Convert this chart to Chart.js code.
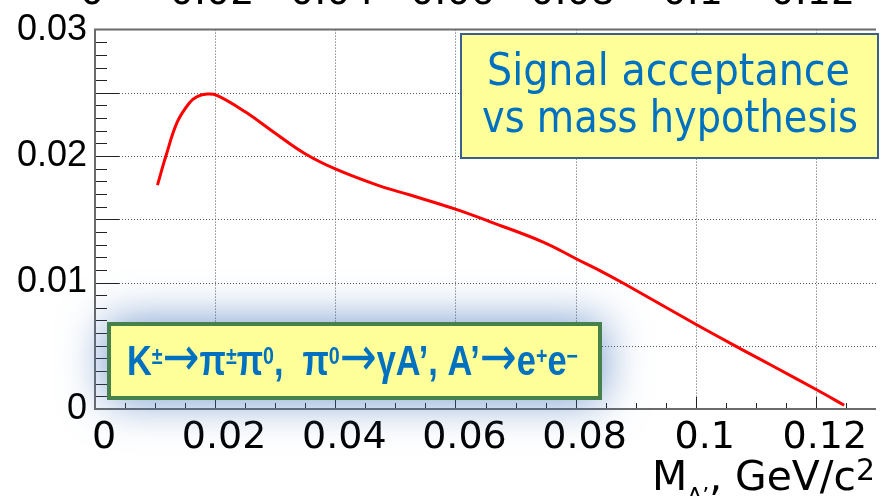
<!DOCTYPE html>
<html lang="en">
<head>
<meta charset="UTF-8" />
<title>Signal acceptance vs mass hypothesis</title>
<script src="https://cdn.jsdelivr.net/npm/chart.js"></script>
<style>
  html, body { margin: 0; padding: 0; background: #fff; }
  #wrap { width: 882px; height: 496px; position: relative; }
</style>
</head>
<body>
<div id="wrap"><canvas id="accChart"></canvas></div>
<script>
  // mass hypothesis M_A' (GeV/c^2) and signal acceptance
  const massValues = [0.0104, 0.0118, 0.0137, 0.0157, 0.0170, 0.0187, 0.0203, 0.0250, 0.0300,
                      0.0349, 0.0399, 0.0470, 0.0526, 0.0600, 0.0658, 0.0746, 0.0800, 0.0834,
                      0.0881, 0.1000, 0.1077, 0.1132, 0.1202, 0.1247];
  const acceptance = [0.0177, 0.0200, 0.0227, 0.0242, 0.0247, 0.0249, 0.0248, 0.0235, 0.0218,
                      0.0202, 0.0190, 0.0177, 0.0169, 0.0158, 0.0148, 0.0132, 0.0119, 0.0111,
                      0.0099, 0.0067, 0.0047, 0.0033, 0.0015, 0.0003];

  const xTickValues = [0, 0.02, 0.04, 0.06, 0.08, 0.1, 0.12];
  const xTickLabels = ['0', '0.02', '0.04', '0.06', '0.08', '0.1', '0.12'];
  const yTickValues = [0, 0.01, 0.02, 0.03];
  const yTickLabels = ['0', '0.01', '0.02', '0.03'];

  const titleLines = ['Signal acceptance', 'vs mass hypothesis'];

  function labelFor(values, labels, v) {
    const i = values.findIndex(t => Math.abs(t - v) < 1e-9);
    return i >= 0 ? labels[i] : '';
  }

  // draws a run of text pieces (sub/superscripts), squeezed to a given width
  function drawRich(ctx, parts, x0, base, width, family, weight) {
    const fontOf = p => `${p.weight || weight} ${p.size}px ${p.family || family}`;
    let total = 0;
    parts.forEach(p => {
      ctx.font = fontOf(p);
      p.w = ctx.measureText(p.t).width;
      total += p.w;
    });
    ctx.save();
    ctx.translate(x0, base);
    ctx.scale(width / total, 1);
    ctx.textAlign = 'left';
    ctx.textBaseline = 'alphabetic';
    let cx = 0;
    parts.forEach(p => {
      ctx.font = fontOf(p);
      ctx.fillText(p.t, cx, p.dy || 0);
      cx += p.w;
    });
    ctx.restore();
  }

  const frame = {
    id: 'frame',
    beforeDatasetsDraw(chart) {
      const { ctx, chartArea: a, scales: { x, y } } = chart;
      ctx.save();
      ctx.strokeStyle = '#555';
      ctx.lineWidth = 1;
      ctx.setLineDash([1, 2]);
      ctx.beginPath();
      for (let i = 1; i <= 6; i++) {
        const px = Math.round(x.getPixelForValue(i * 0.02)) + 0.5;
        ctx.moveTo(px, a.top); ctx.lineTo(px, a.bottom);
      }
      for (let i = 1; i <= 5; i++) {
        const py = Math.round(y.getPixelForValue(i * 0.005)) + 0.5;
        ctx.moveTo(a.left, py); ctx.lineTo(a.right, py);
      }
      ctx.stroke();
      ctx.restore();
    },
    afterDatasetsDraw(chart) {
      const { ctx, chartArea: a, scales: { x, y } } = chart;
      ctx.save();
      // inward tick marks
      ctx.strokeStyle = '#222';
      ctx.lineWidth = 1;
      ctx.beginPath();
      for (let i = 1; i < 30; i++) {
        const py = Math.round(y.getPixelForValue(i / 1000)) + 0.5;
        const len = i % 5 === 0 ? 24 : 12;
        ctx.moveTo(a.left, py); ctx.lineTo(a.left + len, py);
      }
      for (let i = 1; i <= 25; i++) {
        const px = Math.round(x.getPixelForValue(i * 0.005)) + 0.5;
        const len = i % 4 === 0 ? 12 : 6;
        ctx.moveTo(px, a.bottom); ctx.lineTo(px, a.bottom - len);
      }
      ctx.stroke();
      // frame
      ctx.strokeStyle = '#6b6b6b';
      ctx.lineWidth = 2;
      ctx.beginPath();
      ctx.moveTo(a.right, a.top); ctx.lineTo(a.left, a.top);
      ctx.lineTo(a.left, a.bottom); ctx.lineTo(a.right, a.bottom);
      ctx.stroke();
      ctx.restore();
    },
    afterDraw(chart) {
      const { ctx, scales: { x } } = chart;
      ctx.save();
      // tick labels of the panel above, cut by the page edge
      ctx.fillStyle = '#000';
      ctx.font = '38px "DejaVu Sans"';
      ctx.textAlign = 'center';
      ctx.textBaseline = 'alphabetic';
      xTickValues.forEach((v, i) => ctx.fillText(xTickLabels[i], x.getPixelForValue(v) - 3, 4));

      // top-right note
      ctx.fillStyle = '#ffff99';
      ctx.fillRect(461, 34, 417, 124);
      ctx.strokeStyle = '#3b5e8c';
      ctx.lineWidth = 2;
      ctx.strokeRect(461, 34, 417, 124);
      ctx.fillStyle = '#0070c0';
      drawRich(ctx, [{ t: titleLines[0], size: 45 }], 668.5 - 181.5, 85, 363, '"DejaVu Sans"', 'normal');
      drawRich(ctx, [{ t: titleLines[1], size: 45 }], 670 - 188, 132, 376, '"DejaVu Sans"', 'normal');

      // decay chain box with glow
      ctx.save();
      ctx.shadowColor = 'rgba(65,115,185,0.75)';
      ctx.shadowBlur = 45;
      ctx.fillStyle = '#ffff99';
      ctx.fillRect(107, 322, 495, 78);
      ctx.restore();
      ctx.strokeStyle = '#46804a';
      ctx.lineWidth = 4;
      ctx.strokeRect(109, 324, 491, 74);
      ctx.fillStyle = '#0070c0';
      const S = 42, s = 24, up = -11;
      const arrow = { t: '→', size: 54, weight: 'normal', family: '"DejaVu Sans"' };
      drawRich(ctx, [
        { t: 'K', size: S }, { t: '±', size: s, dy: up }, arrow, { t: 'π', size: S },
        { t: '±', size: s, dy: up }, { t: 'π', size: S }, { t: '0', size: s, dy: up },
        { t: ',  π', size: S }, { t: '0', size: s, dy: up }, arrow, { t: 'γA’, A’', size: S },
        arrow, { t: 'e', size: S }, { t: '+', size: s, dy: up }, { t: 'e', size: S },
        { t: '−', size: s, dy: up }
      ], 127, 375, 451, '"Liberation Sans"', 'bold');

      // x axis title
      ctx.fillStyle = '#000';
      drawRich(ctx, [
        { t: 'M', size: 41 }, { t: 'A’', size: 22, dy: 13 }, { t: ', GeV/c', size: 41 },
        { t: '2', size: 30, dy: -10 }
      ], 652, 490, 223, '"DejaVu Sans"', 'normal');
      ctx.restore();
    }
  };

  new Chart(document.getElementById('accChart'), {
    type: 'line',
    data: {
      datasets: [{
        data: massValues.map((m, i) => ({ x: m, y: acceptance[i] })),
        borderColor: '#ff0000',
        borderWidth: 3,
        pointRadius: 0,
        tension: 0.4,
        fill: false
      }]
    },
    options: {
      responsive: true,
      maintainAspectRatio: false,
      animation: false,
      layout: { padding: { top: 25, right: 0, left: 0, bottom: 0 } },
      plugins: { legend: { display: false }, tooltip: { enabled: false } },
      scales: {
        x: {
          type: 'linear',
          min: 0,
          max: 0.13,
          grid: { display: false, drawTicks: false },
          border: { display: false },
          afterFit: s => { s.height = 87; },
          ticks: {
            stepSize: 0.005,
            autoSkip: false,
            maxRotation: 0,
            padding: 6,
            labelOffset: 9,
            color: '#000',
            font: { family: 'DejaVu Sans', size: 38 },
            callback: v => labelFor(xTickValues, xTickLabels, v)
          }
        },
        y: {
          min: 0,
          max: 0.03,
          grid: { display: false, drawTicks: false },
          border: { display: false },
          afterFit: s => { s.width = 95; },
          ticks: {
            stepSize: 0.001,
            autoSkip: false,
            padding: 8,
            color: '#000',
            font: { family: 'Liberation Sans', size: 36 },
            callback: v => labelFor(yTickValues, yTickLabels, v)
          }
        }
      }
    },
    plugins: [frame]
  });
</script>
</body>
</html>
